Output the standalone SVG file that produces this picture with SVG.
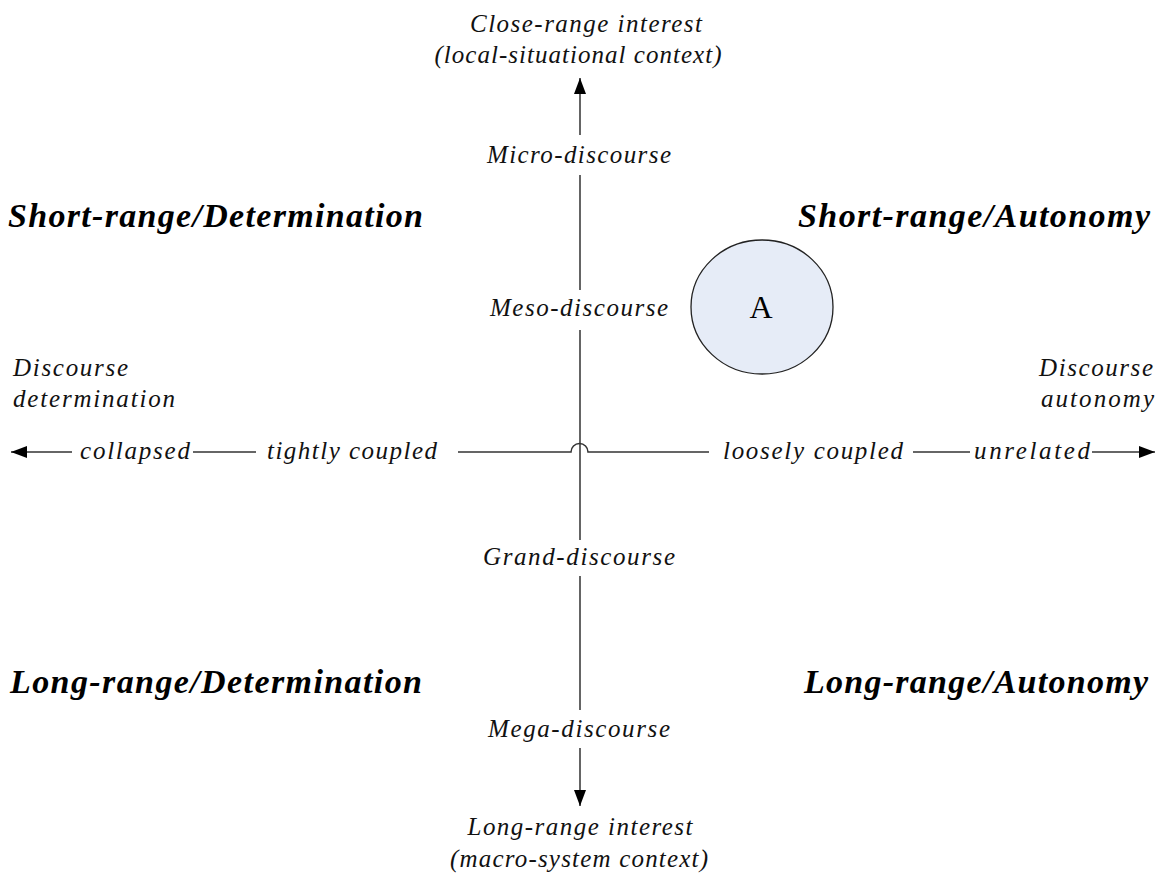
<svg xmlns="http://www.w3.org/2000/svg" width="1156" height="873" viewBox="0 0 1156 873">
<defs>
<style>
.lbl{font-family:"Liberation Serif","Times New Roman",serif;font-style:italic;font-size:25px;fill:#111}
.hd{font-family:"Liberation Serif","Times New Roman",serif;font-style:italic;font-weight:bold;font-size:34px;fill:#000}
.ax{stroke:#111;stroke-width:1.3;fill:none}
.hx{stroke:#333;stroke-width:1.5;fill:none}
</style>
<marker id="arr" viewBox="0 0 16 12" refX="16" refY="6" markerWidth="16" markerHeight="12" markerUnits="userSpaceOnUse" orient="auto">
<path d="M0,0 L16,6 L0,12 Z" fill="#000"/>
</marker>
</defs>
<rect width="1156" height="873" fill="#fff"/>

<g id="connectors">
<line class="ax" x1="580" y1="135" x2="580" y2="78" marker-end="url(#arr)"/>
<line class="ax" x1="580" y1="175" x2="580" y2="290"/>
<line class="ax" x1="580" y1="330" x2="580" y2="540"/>
<line class="ax" x1="580" y1="576" x2="580" y2="710"/>
<line class="ax" x1="580" y1="748" x2="580" y2="806" marker-end="url(#arr)"/>
<line class="hx" x1="72" y1="452" x2="11" y2="452" marker-end="url(#arr)"/>
<line class="hx" x1="193" y1="452" x2="256" y2="452"/>
<path class="hx" d="M458,452 H571 A8.5,8.5 0 0 1 588,452 H709"/>
<line class="hx" x1="913" y1="452" x2="970" y2="452"/>
<line class="hx" x1="1092" y1="452" x2="1155" y2="452" marker-end="url(#arr)"/>
</g>

<g id="node-top">
<text class="lbl" x="586" y="32" text-anchor="middle" textLength="232" lengthAdjust="spacing">Close-range interest</text>
<text class="lbl" x="578" y="63" text-anchor="middle" textLength="287" lengthAdjust="spacing">(local-situational context)</text>
</g>
<g id="node-micro"><text class="lbl" x="579" y="163" text-anchor="middle" textLength="184" lengthAdjust="spacing">Micro-discourse</text></g>
<g id="node-meso"><text class="lbl" x="579" y="316" text-anchor="middle" textLength="178" lengthAdjust="spacing">Meso-discourse</text></g>
<g id="node-grand"><text class="lbl" x="579" y="565" text-anchor="middle" textLength="192" lengthAdjust="spacing">Grand-discourse</text></g>
<g id="node-mega"><text class="lbl" x="579" y="737" text-anchor="middle" textLength="182" lengthAdjust="spacing">Mega-discourse</text></g>
<g id="node-bottom">
<text class="lbl" x="580" y="835" text-anchor="middle" textLength="225" lengthAdjust="spacing">Long-range interest</text>
<text class="lbl" x="579" y="867" text-anchor="middle" textLength="258" lengthAdjust="spacing">(macro-system context)</text>
</g>

<g id="node-sd"><text class="hd" x="8" y="227" textLength="415" lengthAdjust="spacing">Short-range/Determination</text></g>
<g id="node-sa"><text class="hd" x="798" y="227" textLength="352" lengthAdjust="spacing">Short-range/Autonomy</text></g>
<g id="node-ld"><text class="hd" x="10" y="693" textLength="412" lengthAdjust="spacing">Long-range/Determination</text></g>
<g id="node-la"><text class="hd" x="804" y="693" textLength="344" lengthAdjust="spacing">Long-range/Autonomy</text></g>

<g id="node-left">
<text class="lbl" x="13" y="376" textLength="115" lengthAdjust="spacing">Discourse</text>
<text class="lbl" x="13" y="407" textLength="162" lengthAdjust="spacing">determination</text>
</g>
<g id="node-right">
<text class="lbl" x="1039" y="376" textLength="114" lengthAdjust="spacing">Discourse</text>
<text class="lbl" x="1041" y="407" textLength="113" lengthAdjust="spacing">autonomy</text>
</g>

<g id="node-collapsed"><text class="lbl" x="80" y="459" textLength="110" lengthAdjust="spacing">collapsed</text></g>
<g id="node-tight"><text class="lbl" x="267" y="459" textLength="170" lengthAdjust="spacing">tightly coupled</text></g>
<g id="node-loose"><text class="lbl" x="723" y="459" textLength="180" lengthAdjust="spacing">loosely coupled</text></g>
<g id="node-unrelated"><text class="lbl" x="974" y="459" textLength="116" lengthAdjust="spacing">unrelated</text></g>

<g id="node-A">
<ellipse cx="762" cy="307" rx="71" ry="67" fill="#e6ecf7" stroke="#222" stroke-width="1.3"/>
<text x="761" y="318" text-anchor="middle" style="font-family:'Liberation Serif','Times New Roman',serif;font-size:32px;fill:#000">A</text>
</g>
</svg>
